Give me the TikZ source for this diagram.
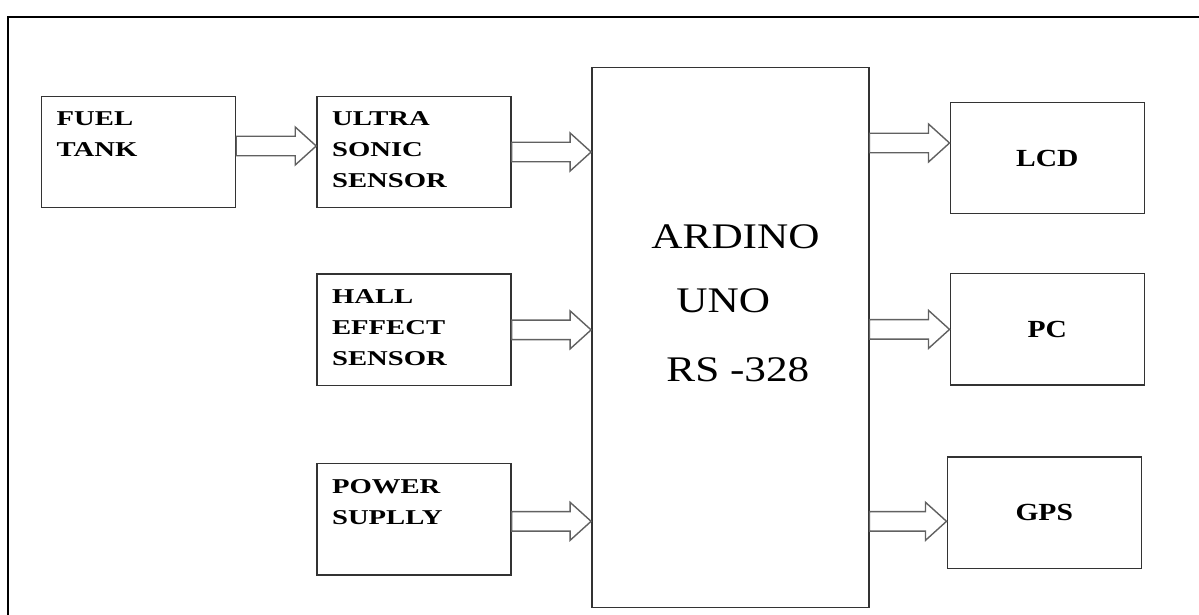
\documentclass[tikz,border=0pt]{standalone}
\usepackage{fontspec}
\newfontfamily\blkfont{Liberation Serif}[FakeStretch=1.36]
\newfontfamily\outfont{Liberation Serif}[FakeStretch=1.2]
\newfontfamily\unofont{Liberation Serif}[FakeStretch=1.2]
\usetikzlibrary{positioning,calc}
\tikzset{
  blk/.style  ={draw=black!80, line width=0.8pt, minimum width=38.8mm,
                minimum height=22.3mm, inner sep=0pt},
  tblk/.style ={blk, label={[lbl]north west:{#1}}},
  lbl/.style  ={anchor=north west, inner sep=0pt, xshift=3.1mm, yshift=-3.2mm,
                align=left, font=\blkfont\bfseries\fontsize{12}{17.6}\selectfont},
  ulbl/.style ={anchor=north west, inner sep=0pt, xshift=12mm, yshift=-31.6mm,
                align=left, font=\unofont\fontsize{20.5}{36.4}\selectfont},
  oblk/.style ={blk, font=\outfont\bfseries\fontsize{14}{16}\selectfont},
  fat/.style  ={draw=black!62, line width=0.8pt, fill=white, line join=miter},
  frame/.style={draw=black, line width=1.2pt},
}
% hollow block arrow: from x of #1 to x of #2, at height of #3
\newcommand{\fatarrow}[3]{%
  \draw[fat] let \p1=(#1), \p2=(#2), \p3=(#3) in
    (\x1,\y3+1.95mm) -- (\x2-4.2mm,\y3+1.95mm) -- (\x2-4.2mm,\y3+3.8mm) -- (\x2,\y3)
    -- (\x2-4.2mm,\y3-3.8mm) -- (\x2-4.2mm,\y3-1.95mm) -- (\x1,\y3-1.95mm) -- cycle;}

\begin{document}
\begin{tikzpicture}
\useasboundingbox (0,0) rectangle (23.98,-12.30);
\draw[frame] (0.16,-12.6) |- (24.3,-0.34);
% inputs
\node[tblk={FUEL\\TANK}] (fuel) at (2.77,-3.04) {};
\node[tblk={ULTRA\\SONIC\\SENSOR}, right=16mm of fuel] (ultra) {};
\node[tblk={HALL\\EFFECT\\SENSOR}, below=13mm of ultra] (hall) {};
\node[tblk={POWER\\SUPLLY}, below=15.3mm of hall] (power) {};
% controller
\node[blk, minimum width=55.4mm, minimum height=108mm, anchor=north west,
  label={[ulbl]north west:{ARDINO\\\hspace*{5mm}UNO\\[1mm]\hspace*{3mm}RS -328}}]
  (uno) at ([shift={(15.9mm,5.8mm)}]ultra.north east) {};
% outputs
\node[oblk, anchor=north west] (lcd) at ([shift={(16mm,-7mm)}]uno.north east) {LCD};
\node[oblk, below=11.7mm of lcd] (pc) {PC};
\node[oblk, below=14.1mm of pc, xshift=-0.6mm] (gps) {GPS};
% links
\fatarrow{fuel.east}{ultra.west}{[yshift=1.2mm]fuel.east}
\fatarrow{ultra.east}{uno.west}{ultra.east}
\fatarrow{hall.east}{uno.west}{hall.east}
\fatarrow{power.east}{uno.west}{[yshift=-0.4mm]power.east}
\fatarrow{uno.east}{lcd.west}{[yshift=3mm]lcd.west}
\fatarrow{uno.east}{pc.west}{pc.west}
\fatarrow{uno.east}{gps.west}{[yshift=-1.7mm]gps.west}
\end{tikzpicture}
\end{document}
